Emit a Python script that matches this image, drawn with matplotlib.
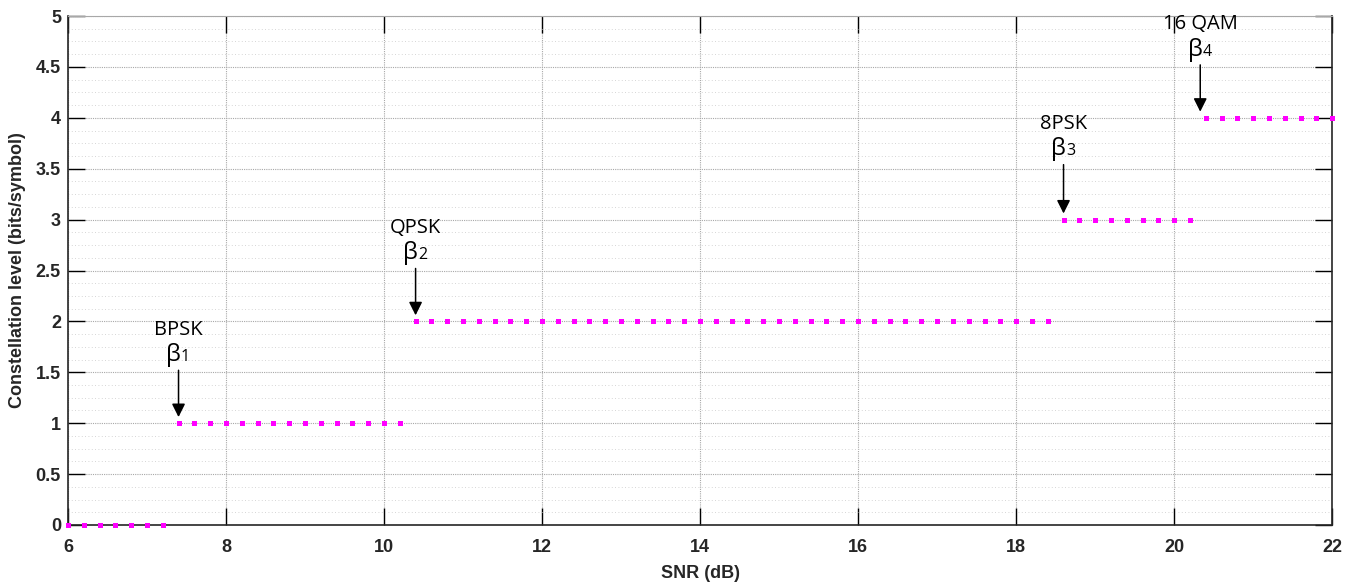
import numpy as np
import matplotlib.pyplot as plt
from matplotlib.ticker import MultipleLocator

# data: SNR grid (0.2 dB step) and selected constellation level
snr_db = [6.0, 6.2, 6.4, 6.6, 6.8, 7.0, 7.2,
          7.4, 7.6, 7.8, 8.0, 8.2, 8.4, 8.6, 8.8, 9.0, 9.2, 9.4, 9.6, 9.8, 10.0, 10.2,
          10.4, 10.6, 10.8, 11.0, 11.2, 11.4, 11.6, 11.8, 12.0, 12.2, 12.4, 12.6, 12.8,
          13.0, 13.2, 13.4, 13.6, 13.8, 14.0, 14.2, 14.4, 14.6, 14.8, 15.0, 15.2, 15.4,
          15.6, 15.8, 16.0, 16.2, 16.4, 16.6, 16.8, 17.0, 17.2, 17.4, 17.6, 17.8, 18.0,
          18.2, 18.4,
          18.6, 18.8, 19.0, 19.2, 19.4, 19.6, 19.8, 20.0, 20.2,
          20.4, 20.6, 20.8, 21.0, 21.2, 21.4, 21.6, 21.8, 22.0]
level = [0] * 7 + [1] * 15 + [2] * 41 + [3] * 9 + [4] * 9

# annotations: name, subscript, x of arrow, arrow tail y, arrow head y
mod_names = ['BPSK', 'QPSK', '8PSK', '16 QAM']
beta_idx = ['1', '2', '3', '4']
arrow_x = [7.4, 10.4, 18.6, 20.33]
arrow_top = [1.52, 2.52, 3.54, 4.52]
arrow_tip = [1.06, 2.06, 3.06, 4.06]

fig = plt.figure(figsize=(13.58, 5.83), dpi=100)
ax = fig.add_axes([0.05, 0.0995, 0.931, 0.873])

ax.plot(snr_db, level, linestyle='none', marker='s', ms=3.6, mew=0,
        color='#ff00ff', zorder=3, clip_on=False)

ax.set_xlim(6, 22)
ax.set_ylim(0, 5)
ax.xaxis.set_major_locator(MultipleLocator(2))
ax.yaxis.set_major_locator(MultipleLocator(0.5))
ax.yaxis.set_minor_locator(MultipleLocator(0.125))
ax.yaxis.set_major_formatter(plt.FuncFormatter(lambda v, p: f'{v:g}'))

ax.grid(which='major', color='#a8a8a8', linestyle=(0, (1, 1)), linewidth=0.8)
ax.grid(which='minor', axis='y', color='#c8c8c8', linestyle=(0, (1, 3)), linewidth=0.6)

ax.tick_params(which='major', direction='in', length=12, width=1,
               top=True, right=True, labelsize=13)
ax.tick_params(axis='x', pad=10)
ax.tick_params(axis='y', pad=5)
ax.tick_params(which='minor', length=0)
for lab in ax.get_xticklabels() + ax.get_yticklabels():
    lab.set_fontweight('bold')
    lab.set_family('Liberation Sans')
    lab.set_color('#262626')

for s in ['left', 'right', 'bottom']:
    ax.spines[s].set_color('#262626')
    ax.spines[s].set_linewidth(1.2)
ax.spines['top'].set_color('#a8a8a8')
ax.spines['top'].set_linewidth(0.8)

ax.set_xlabel('SNR (dB)', fontsize=13, fontweight='bold',
              family='Liberation Sans', color='#262626')
ax.set_ylabel('Constellation level (bits/symbol)', fontsize=13, fontweight='bold',
              family='Liberation Sans', color='#262626')
ax.xaxis.set_label_coords(0.5, -0.078)
ax.yaxis.set_label_coords(-0.033, 0.5)

fam = ['Open Sans', 'DejaVu Sans']
for name, b, x, y0, y1 in zip(mod_names, beta_idx, arrow_x, arrow_top, arrow_tip):
    ax.annotate('', xy=(x, y1), xytext=(x, y0),
                arrowprops=dict(arrowstyle='-|>', color='black', lw=1.1,
                                mutation_scale=20, shrinkA=0, shrinkB=0))
    ax.text(x, y0 + 0.40, name, ha='center', va='center', fontsize=14.5, family=fam)
    ax.text(x + 0.03, y0 + 0.15, 'β', ha='right', va='center', fontsize=17, family=fam)
    ax.text(x + 0.03, y0 + 0.13, b, ha='left', va='center', fontsize=11.5, family=fam)

fig.savefig('out.png', dpi=100)
